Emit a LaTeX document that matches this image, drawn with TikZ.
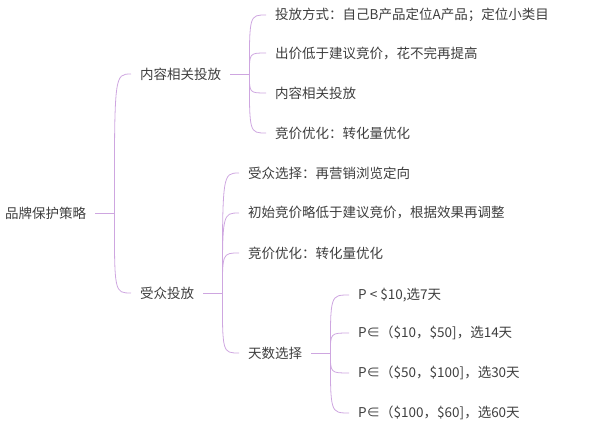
\documentclass[tikz,border=0pt]{standalone}
\usepackage{fontspec}
\setmainfont{Noto Sans CJK SC}

\definecolor{textgray}{RGB}{62,62,62}
\definecolor{linkpurple}{RGB}{206,166,224}

\tikzset{
    topic/.style={anchor=west, inner xsep=9pt, inner ysep=0pt, text=textgray,
        font=\fontsize{13.5}{16}\selectfont},
    stem/.style={draw=linkpurple, line width=0.8pt},
    branch/.style={draw=linkpurple, line width=0.8pt,
        to path={.. controls (\tikztostart |- \tikztotarget) and (\tikztostart |- \tikztotarget) .. (\tikztotarget)}}
}

\begin{document}
\begin{tikzpicture}[x=1pt, y=-1pt]
    \useasboundingbox (0,0) rectangle (614,425);
        \node[topic] (brand) at (-4,213) {品牌保护策略};
        \node[topic] (content) at (131,74) {内容相关投放};
        \node[topic] (audience) at (131,293) {受众投放};
        % content branch
        \node[topic] (mode) at (266,15) {投放方式：自己B产品定位A产品；定位小类目};
        \node[topic] (lowbid) at (266,53) {出价低于建议竞价，花不完再提高};
        \node[topic] (related) at (266,93) {内容相关投放};
        \node[topic] (cbidopt) at (266,133) {竞价优化：转化量优化};
        % audience branch
        \node[topic] (choose) at (239,173) {受众选择：再营销浏览定向};
        \node[topic] (initbid) at (239,213) {初始竞价略低于建议竞价，根据效果再调整};
        \node[topic] (abidopt) at (239,253) {竞价优化：转化量优化};
        \node[topic] (days) at (239,353) {天数选择};
        % days branch
        \node[topic] (day7) at (349,295) {P < \$10,选7天};
        \node[topic] (day14) at (349,333) {P∈（\$10，\$50]，选14天};
        \node[topic] (day30) at (349,373) {P∈（\$50，\$100]，选30天};
        \node[topic] (day60) at (349,413) {P∈（\$100，\$60]，选60天};

        \coordinate (jbrand) at ([xshift=19pt]brand.east);
        \coordinate (jcontent) at ([xshift=19pt]content.east);
        \coordinate (jaudience) at ([xshift=19pt]audience.east);
        \coordinate (jdays) at ([xshift=19pt]days.east);

        \path[stem] (brand) -- (jbrand);
        \path (jbrand) edge [branch] (content);
        \path (jbrand) edge [branch] (audience);

        \path[stem] (content) -- (jcontent);
        \path (jcontent) edge [branch] (mode);
        \path (jcontent) edge [branch] (lowbid);
        \path (jcontent) edge [branch] (related);
        \path (jcontent) edge [branch] (cbidopt);

        \path[stem] (audience) -- (jaudience);
        \path (jaudience) edge [branch] (choose);
        \path (jaudience) edge [branch] (initbid);
        \path (jaudience) edge [branch] (abidopt);
        \path (jaudience) edge [branch] (days);

        \path[stem] (days) -- (jdays);
        \path (jdays) edge [branch] (day7);
        \path (jdays) edge [branch] (day14);
        \path (jdays) edge [branch] (day30);
        \path (jdays) edge [branch] (day60);
    \end{tikzpicture}
\end{document}
